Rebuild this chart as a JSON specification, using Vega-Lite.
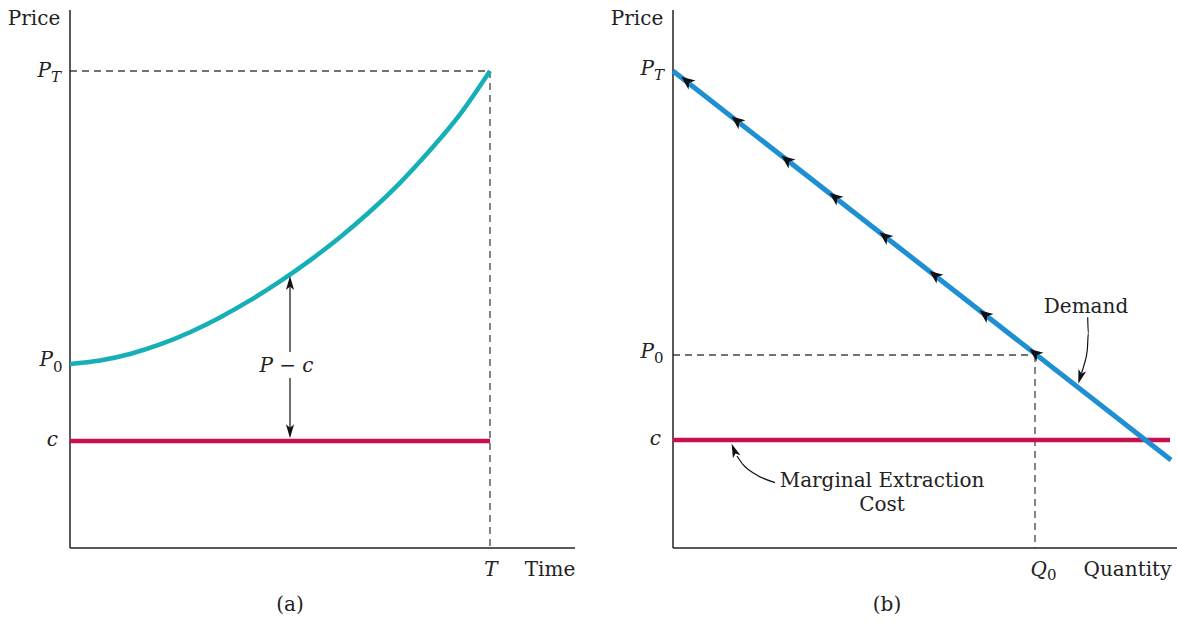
{
  "$schema": "https://vega.github.io/schema/vega-lite/v6.json",
  "background": "white",
  "padding": 0,
  "spacing": 0,
  "config": {"view": {"stroke": null}, "text": {"font": "DejaVu Serif", "color": "#222"}},
  "datasets": {
    "aAxes": [{"x": 0, "y": 0, "x2": 0, "y2": 100}, {"x": 0, "y": 0, "x2": 101, "y2": 0}],
    "aDash": [{"x": 0, "y": 88.66, "x2": 84, "y2": 88.66}, {"x": 84, "y": 88.66, "x2": 84, "y2": 0}],
    "aCost": [{"x": 0, "y": 19.89, "x2": 84, "y2": 19.89}],
    "aPrice": [
      {"x": 0, "y": 34.2}, {"x": 6, "y": 34.85}, {"x": 12, "y": 36.06}, {"x": 18, "y": 37.83},
      {"x": 24, "y": 40.11}, {"x": 30, "y": 42.86}, {"x": 36, "y": 46.02}, {"x": 42, "y": 49.55},
      {"x": 48, "y": 53.46}, {"x": 54, "y": 57.77}, {"x": 60, "y": 62.55}, {"x": 66, "y": 67.88},
      {"x": 72, "y": 73.92}, {"x": 78, "y": 80.6}, {"x": 84, "y": 88.66}
    ],
    "aShaft": [{"x": 44, "y": 20.9, "x2": 44, "y2": 31.6}, {"x": 44, "y": 36.43, "x2": 44, "y2": 49.0}],
    "aHeads": [{"x": 44, "y": 49.2, "angle": 0}, {"x": 44, "y": 21.75, "angle": 180}],
    "aUp": [{"x": -7.2, "y": 97.21, "t": "Price"}, {"x": 96, "y": -5.2, "t": "Time"}, {"x": 44, "y": -11.71, "t": "(a)"}],
    "aItR": [{"x": -3.8, "y": 87.55, "t": "P"}, {"x": -3.4, "y": 33.83, "t": "P"}, {"x": -2.4, "y": 18.96, "t": "c"}],
    "aItC": [{"x": 84.2, "y": -5.2, "t": "T"}, {"x": 43.3, "y": 32.77, "t": "P − c"}],
    "aSubIt": [{"x": -3.8, "y": 86.62, "t": "T"}],
    "aSub": [{"x": -3.4, "y": 32.71, "t": "0"}],
    "bAxes": [{"x": 0, "y": 0, "x2": 0, "y2": 100}, {"x": 0, "y": 0, "x2": 100.8, "y2": 0}],
    "bDash": [{"x": 0, "y": 35.87, "x2": 72.4, "y2": 35.87}, {"x": 72.4, "y": 35.87, "x2": 72.4, "y2": 0}],
    "bCost": [{"x": 0, "y": 20.07, "x2": 99.4, "y2": 20.07}],
    "bDemand": [{"x": 0, "y": 88.66, "x2": 99.6, "y2": 16.36}],
    "bFlow": [
      {"x": 2.8, "y": 86.8}, {"x": 12.8, "y": 79.4}, {"x": 22.8, "y": 72.1}, {"x": 32.4, "y": 65.2},
      {"x": 42.4, "y": 57.9}, {"x": 52.4, "y": 50.7}, {"x": 62.4, "y": 43.4}, {"x": 72.4, "y": 36.2}
    ],
    "bCurves": [
      {"c": "d", "i": 0, "x": 82.94, "y": 42.88}, {"c": "d", "i": 1, "x": 83.06, "y": 39.91}, {"c": "d", "i": 2, "x": 82.86, "y": 36.8}, {"c": "d", "i": 3, "x": 82.2, "y": 34.01}, {"c": "d", "i": 4, "x": 81.7, "y": 32.53},
      {"c": "m", "i": 0, "x": 20.4, "y": 12.14}, {"c": "m", "i": 1, "x": 16.74, "y": 13.57}, {"c": "m", "i": 2, "x": 14.06, "y": 15.43}, {"c": "m", "i": 3, "x": 12.8, "y": 17.1}
    ],
    "bHeads": [{"x": 81.48, "y": 31.86, "angle": 197}, {"x": 12.26, "y": 18.12, "angle": 338.5}],
    "bUp": [
      {"x": -7.2, "y": 97.21, "t": "Price"}, {"x": 90.9, "y": -5.2, "t": "Quantity"}, {"x": 42.8, "y": -11.71, "t": "(b)"},
      {"x": 82.6, "y": 43.68, "t": "Demand"}, {"x": 41.8, "y": 11.34, "t": "Marginal Extraction"}, {"x": 41.8, "y": 6.88, "t": "Cost"}
    ],
    "bItR": [{"x": -3.8, "y": 87.92, "t": "P"}, {"x": -3.8, "y": 35.32, "t": "P"}, {"x": -2.4, "y": 19.14, "t": "c"}, {"x": 74.8, "y": -5.2, "t": "Q"}],
    "bSubIt": [{"x": -3.8, "y": 86.99, "t": "T"}],
    "bSub": [{"x": -3.8, "y": 34.39, "t": "0"}, {"x": 74.8, "y": -5.95, "t": "0"}]
  },
  "hconcat": [
    {
      "width": 590,
      "height": 623,
      "encoding": {
        "x": {"field": "x", "type": "quantitative", "scale": {"domain": [-14, 104], "nice": false, "zero": false}, "axis": null},
        "y": {"field": "y", "type": "quantitative", "scale": {"domain": [-13.94, 101.86], "nice": false, "zero": false}, "axis": null}
      },
      "layer": [
        {"data": {"name": "aDash"}, "mark": {"type": "rule", "color": "#444", "strokeWidth": 1.3, "strokeDash": [7, 5]},
         "encoding": {"x2": {"field": "x2"}, "y2": {"field": "y2"}}},
        {"data": {"name": "aAxes"}, "mark": {"type": "rule", "color": "#222", "strokeWidth": 1.5},
         "encoding": {"x2": {"field": "x2"}, "y2": {"field": "y2"}}},
        {"data": {"name": "aCost"}, "mark": {"type": "rule", "color": "#c8104e", "strokeWidth": 4.5, "strokeCap": "butt"},
         "encoding": {"x2": {"field": "x2"}, "y2": {"field": "y2"}}},
        {"data": {"name": "aPrice"}, "mark": {"type": "line", "color": "#17afb7", "strokeWidth": 4.5, "interpolate": "monotone", "strokeCap": "butt"},
         "encoding": {}},
        {"data": {"name": "aShaft"}, "mark": {"type": "rule", "color": "#111", "strokeWidth": 1.2},
         "encoding": {"x2": {"field": "x2"}, "y2": {"field": "y2"}}},
        {"data": {"name": "aHeads"}, "mark": {"type": "point", "shape": "M0,-1L0.55,0.9L0,0.45L-0.55,0.9Z", "filled": true, "color": "#111", "opacity": 1, "size": 217, "strokeWidth": 0},
         "encoding": {"angle": {"field": "angle", "type": "quantitative", "scale": null}}},
        {"data": {"name": "aUp"}, "mark": {"type": "text", "fontSize": 20, "align": "center", "baseline": "alphabetic"},
         "encoding": {"text": {"field": "t"}}},
        {"data": {"name": "aItR"}, "mark": {"type": "text", "fontSize": 20, "fontStyle": "italic", "align": "right", "baseline": "alphabetic"},
         "encoding": {"text": {"field": "t"}}},
        {"data": {"name": "aItC"}, "mark": {"type": "text", "fontSize": 20, "fontStyle": "italic", "align": "center", "baseline": "alphabetic"},
         "encoding": {"text": {"field": "t"}}},
        {"data": {"name": "aSubIt"}, "mark": {"type": "text", "fontSize": 15, "fontStyle": "italic", "align": "left", "baseline": "alphabetic"},
         "encoding": {"text": {"field": "t"}}},
        {"data": {"name": "aSub"}, "mark": {"type": "text", "fontSize": 15, "align": "left", "baseline": "alphabetic"},
         "encoding": {"text": {"field": "t"}}}
      ]
    },
    {
      "width": 587,
      "height": 623,
      "encoding": {
        "x": {"field": "x", "type": "quantitative", "scale": {"domain": [-16.6, 100.8], "nice": false, "zero": false}, "axis": null},
        "y": {"field": "y", "type": "quantitative", "scale": {"domain": [-13.94, 101.86], "nice": false, "zero": false}, "axis": null}
      },
      "layer": [
        {"data": {"name": "bDash"}, "mark": {"type": "rule", "color": "#444", "strokeWidth": 1.3, "strokeDash": [7, 5]},
         "encoding": {"x2": {"field": "x2"}, "y2": {"field": "y2"}}},
        {"data": {"name": "bAxes"}, "mark": {"type": "rule", "color": "#222", "strokeWidth": 1.5},
         "encoding": {"x2": {"field": "x2"}, "y2": {"field": "y2"}}},
        {"data": {"name": "bCost"}, "mark": {"type": "rule", "color": "#c8104e", "strokeWidth": 4.5, "strokeCap": "butt"},
         "encoding": {"x2": {"field": "x2"}, "y2": {"field": "y2"}}},
        {"data": {"name": "bDemand"}, "mark": {"type": "rule", "color": "#1f8fd3", "strokeWidth": 5, "strokeCap": "butt"},
         "encoding": {"x2": {"field": "x2"}, "y2": {"field": "y2"}}},
        {"data": {"name": "bFlow"}, "mark": {"type": "point", "shape": "M0,-1L0.8,0.9L0,0.4L-0.8,0.9Z", "filled": true, "color": "#111", "opacity": 1, "size": 200, "strokeWidth": 0, "angle": 308},
         "encoding": {}},
        {"data": {"name": "bCurves"}, "mark": {"type": "line", "color": "#111", "strokeWidth": 1.2, "interpolate": "monotone"},
         "encoding": {"detail": {"field": "c"}, "order": {"field": "i", "type": "quantitative"}}},
        {"data": {"name": "bHeads"}, "mark": {"type": "point", "shape": "M0,-1L0.55,0.9L0,0.45L-0.55,0.9Z", "filled": true, "color": "#111", "opacity": 1, "size": 217, "strokeWidth": 0},
         "encoding": {"angle": {"field": "angle", "type": "quantitative", "scale": null}}},
        {"data": {"name": "bUp"}, "mark": {"type": "text", "fontSize": 20, "align": "center", "baseline": "alphabetic"},
         "encoding": {"text": {"field": "t"}}},
        {"data": {"name": "bItR"}, "mark": {"type": "text", "fontSize": 20, "fontStyle": "italic", "align": "right", "baseline": "alphabetic"},
         "encoding": {"text": {"field": "t"}}},
        {"data": {"name": "bSubIt"}, "mark": {"type": "text", "fontSize": 15, "fontStyle": "italic", "align": "left", "baseline": "alphabetic"},
         "encoding": {"text": {"field": "t"}}},
        {"data": {"name": "bSub"}, "mark": {"type": "text", "fontSize": 15, "align": "left", "baseline": "alphabetic"},
         "encoding": {"text": {"field": "t"}}}
      ]
    }
  ]
}
